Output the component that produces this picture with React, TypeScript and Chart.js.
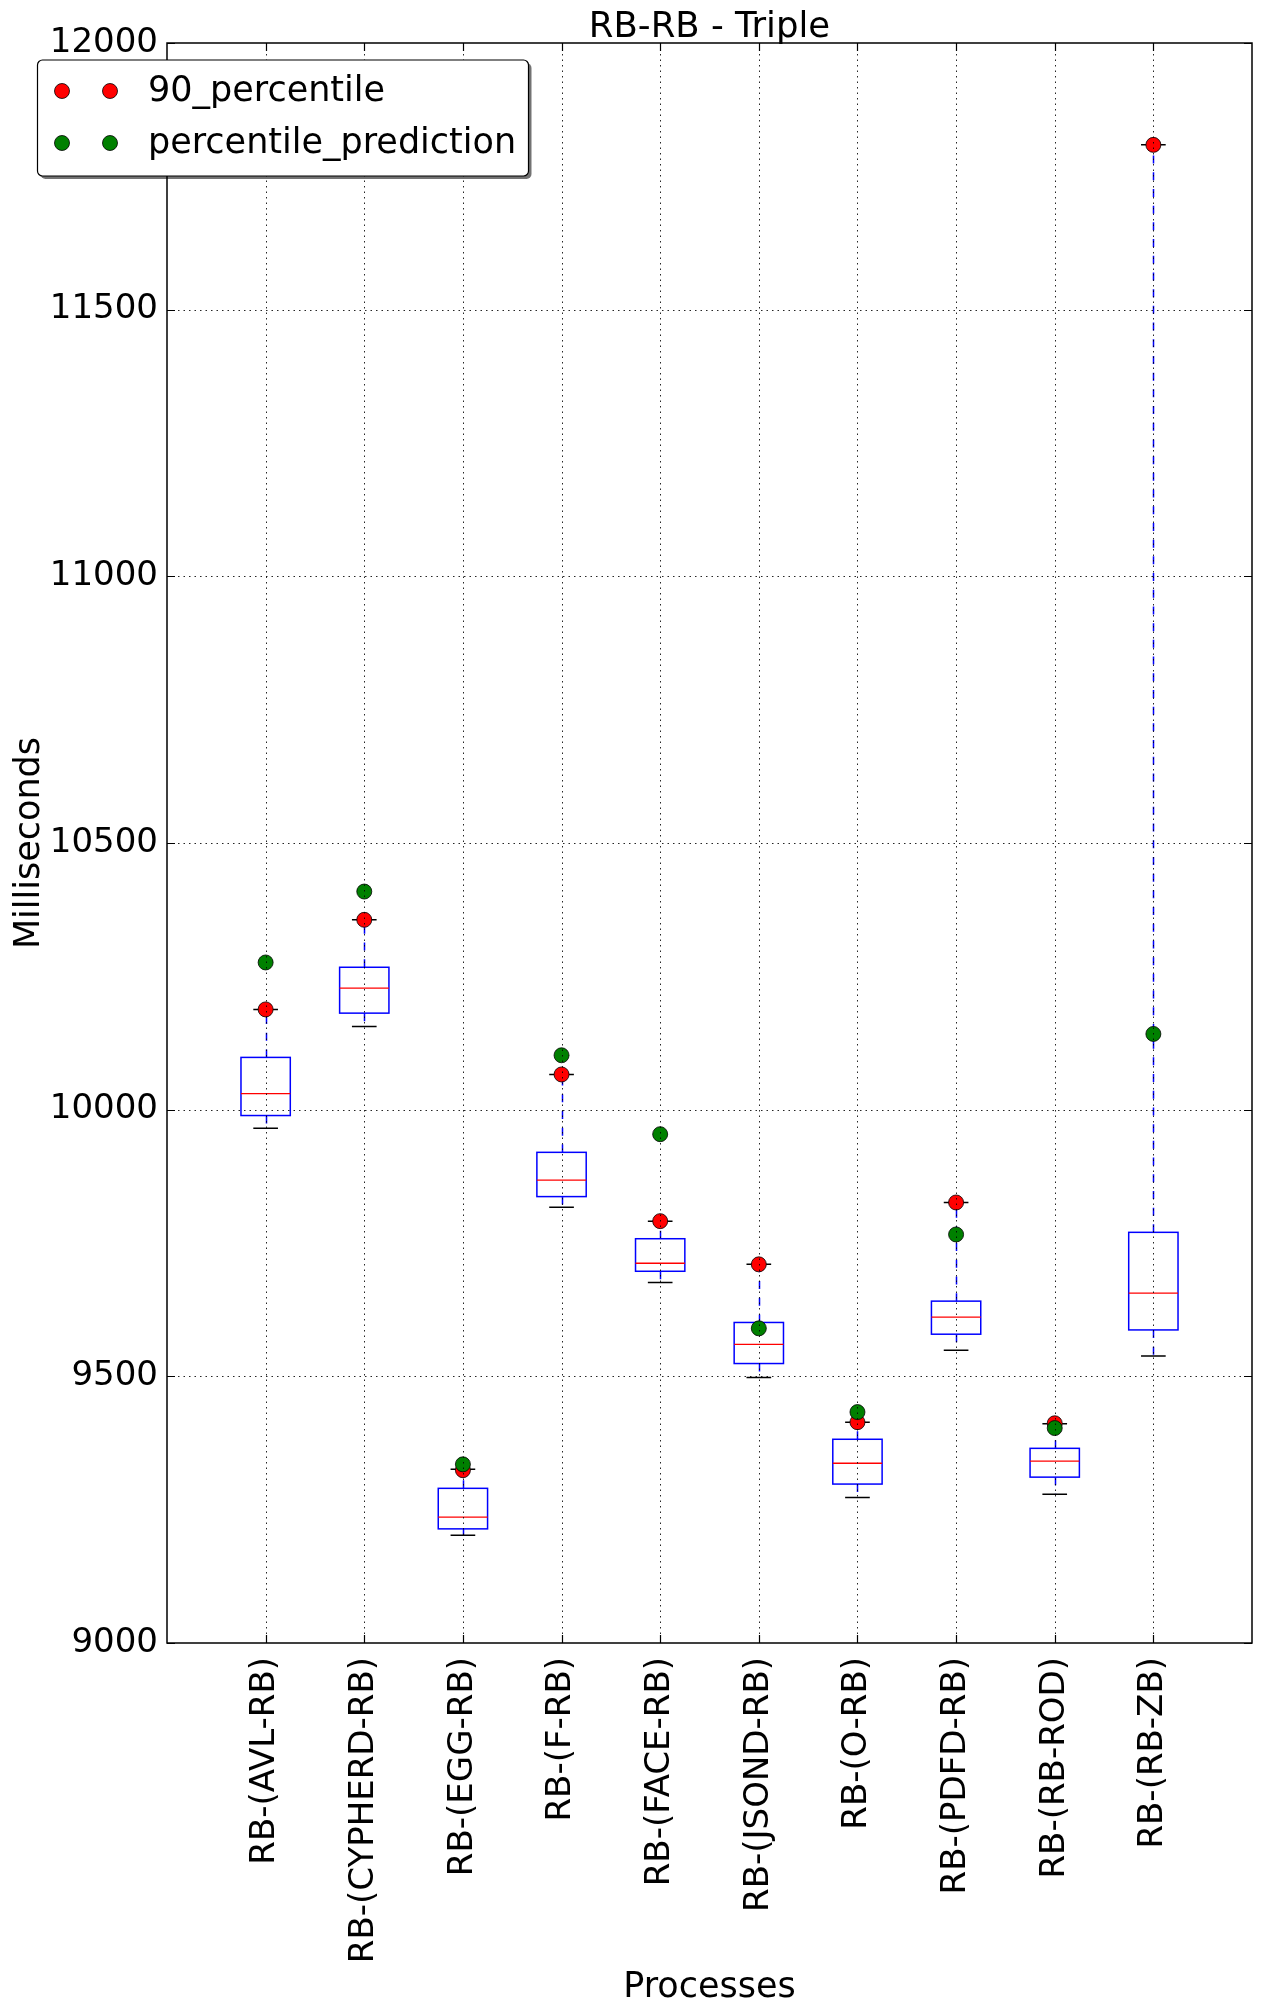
import React, { useEffect, useRef } from "react";
import { Chart, registerables } from "chart.js";

Chart.register(...registerables);

const categories = [
  "RB-(AVL-RB)",
  "RB-(CYPHERD-RB)",
  "RB-(EGG-RB)",
  "RB-(F-RB)",
  "RB-(FACE-RB)",
  "RB-(JSOND-RB)",
  "RB-(O-RB)",
  "RB-(PDFD-RB)",
  "RB-(RB-ROD)",
  "RB-(RB-ZB)",
];
const whiskerLow = [9965, 10156, 9202, 9817, 9676, 9498, 9273, 9549, 9279, 9538];
const q1 = [9989, 10181, 9214, 9837, 9697, 9524, 9298, 9579, 9311, 9587];
const median = [10030, 10228, 9236, 9868, 9712, 9560, 9337, 9611, 9341, 9656];
const q3 = [10098, 10267, 9290, 9920, 9758, 9601, 9382, 9641, 9365, 9770];
const whiskerHigh = [10188, 10356, 9326, 10066, 9791, 9710, 9414, 9826, 9411, 11809];
const percentile90 = [10188, 10356, 9324, 10066, 9791, 9710, 9414, 9826, 9412, 11809];
const percentilePrediction = [10276, 10409, 9335, 10102, 9954, 9590, 9433, 9766, 9403, 10142];
const yTicks = [9000, 9500, 10000, 10500, 11000, 11500, 12000];

const TITLE = "RB-RB - Triple";
const X_TITLE = "Processes";
const Y_TITLE = "Milliseconds";
const LEGEND_LABELS = ["90_percentile", "percentile_prediction"];
const RED = "#ff0000";
const GREEN = "#008000";
const BLUE = "#0000ff";
const FONT = "'DejaVu Sans', 'Liberation Sans', sans-serif";

const boxPlugin = {
  id: "boxes",
  beforeDatasetsDraw(chart: any) {
    const { ctx, scales } = chart;
    const xs = scales.x;
    const ys = scales.y;
    const boxHalf = 0.25;
    const capHalf = 0.125;
    ctx.save();
    for (let i = 0; i < categories.length; i++) {
      const xv = i + 1;
      const xc = Math.round(xs.getPixelForValue(xv)) + 0.5;
      const xl = xs.getPixelForValue(xv - boxHalf);
      const xr = xs.getPixelForValue(xv + boxHalf);
      const cl = xs.getPixelForValue(xv - capHalf);
      const cr = xs.getPixelForValue(xv + capHalf);
      const yLow = ys.getPixelForValue(whiskerLow[i]);
      const yQ1 = ys.getPixelForValue(q1[i]);
      const yMed = ys.getPixelForValue(median[i]);
      const yQ3 = ys.getPixelForValue(q3[i]);
      const yHigh = ys.getPixelForValue(whiskerHigh[i]);
      // whiskers
      ctx.strokeStyle = BLUE;
      ctx.lineWidth = 1.5;
      ctx.setLineDash([8, 8.7]);
      ctx.beginPath();
      ctx.moveTo(xc, yQ3);
      ctx.lineTo(xc, yHigh);
      ctx.moveTo(xc, yQ1);
      ctx.lineTo(xc, yLow);
      ctx.stroke();
      ctx.setLineDash([]);
      // caps
      ctx.strokeStyle = "#000";
      ctx.lineWidth = 1.5;
      ctx.beginPath();
      ctx.moveTo(cl, yHigh);
      ctx.lineTo(cr, yHigh);
      ctx.moveTo(cl, yLow);
      ctx.lineTo(cr, yLow);
      ctx.stroke();
      // box
      ctx.strokeStyle = BLUE;
      ctx.lineWidth = 1.5;
      ctx.strokeRect(xl, yQ3, xr - xl, yQ1 - yQ3);
      // median
      ctx.strokeStyle = RED;
      ctx.lineWidth = 1.3;
      ctx.beginPath();
      ctx.moveTo(xl, yMed);
      ctx.lineTo(xr, yMed);
      ctx.stroke();
    }
    ctx.restore();
  },
  afterDatasetsDraw(chart: any) {
    const { ctx, scales, chartArea } = chart;
    const xs = scales.x;
    const ys = scales.y;
    const { left, right, top, bottom } = chartArea;
    ctx.save();
    // dotted grid on top of data (matplotlib classic)
    ctx.strokeStyle = "rgba(0,0,0,0.85)";
    ctx.lineWidth = 1;
    ctx.setLineDash([1.5, 4]);
    ctx.beginPath();
    for (let i = 0; i < categories.length; i++) {
      const x = Math.round(xs.getPixelForValue(i + 1)) + 0.5;
      ctx.moveTo(x, top);
      ctx.lineTo(x, bottom);
    }
    for (const v of yTicks) {
      if (v === yTicks[0] || v === yTicks[yTicks.length - 1]) continue;
      const y = Math.round(ys.getPixelForValue(v)) + 0.5;
      ctx.moveTo(left, y);
      ctx.lineTo(right, y);
    }
    ctx.stroke();
    ctx.setLineDash([]);
    // inward tick marks
    ctx.strokeStyle = "#000";
    ctx.lineWidth = 1.2;
    ctx.beginPath();
    for (let i = 0; i < categories.length; i++) {
      const x = Math.round(xs.getPixelForValue(i + 1)) + 0.5;
      ctx.moveTo(x, bottom);
      ctx.lineTo(x, bottom - 8);
      ctx.moveTo(x, top);
      ctx.lineTo(x, top + 8);
    }
    for (const v of yTicks) {
      const y = Math.round(ys.getPixelForValue(v)) + 0.5;
      ctx.moveTo(left, y);
      ctx.lineTo(left + 8, y);
      ctx.moveTo(right, y);
      ctx.lineTo(right - 8, y);
    }
    ctx.stroke();
    // frame
    ctx.lineWidth = 1.5;
    ctx.strokeRect(left, top, right - left, bottom - top);
    ctx.restore();
  },
  afterDraw(chart: any) {
    const { ctx, chartArea } = chart;
    ctx.save();
    // title
    ctx.fillStyle = "#000";
    ctx.font = `35.5px ${FONT}`;
    ctx.textAlign = "center";
    ctx.textBaseline = "alphabetic";
    ctx.fillText(TITLE, (chartArea.left + chartArea.right) / 2, 37);
    // legend
    const bx = 37.5;
    const by = 60;
    const bw = 491;
    const bh = 116;
    const r = 5;
    const rr = (x: number, y: number) => {
      ctx.beginPath();
      ctx.moveTo(x + r, y);
      ctx.lineTo(x + bw - r, y);
      ctx.arcTo(x + bw, y, x + bw, y + r, r);
      ctx.lineTo(x + bw, y + bh - r);
      ctx.arcTo(x + bw, y + bh, x + bw - r, y + bh, r);
      ctx.lineTo(x + r, y + bh);
      ctx.arcTo(x, y + bh, x, y + bh - r, r);
      ctx.lineTo(x, y + r);
      ctx.arcTo(x, y, x + r, y, r);
      ctx.closePath();
    };
    rr(bx + 3, by + 3);
    ctx.fillStyle = "rgba(0,0,0,0.55)";
    ctx.fill();
    rr(bx, by);
    ctx.fillStyle = "#fff";
    ctx.fill();
    ctx.strokeStyle = "#000";
    ctx.lineWidth = 1.2;
    ctx.stroke();
    const rows = [91, 143];
    const colors = [RED, GREEN];
    for (let k = 0; k < 2; k++) {
      for (const mx of [62, 110]) {
        ctx.beginPath();
        ctx.arc(mx, rows[k], 7.5, 0, Math.PI * 2);
        ctx.fillStyle = colors[k];
        ctx.fill();
        ctx.strokeStyle = "#000";
        ctx.lineWidth = 0.8;
        ctx.stroke();
      }
      ctx.fillStyle = "#000";
      ctx.font = `35px ${FONT}`;
      ctx.textAlign = "left";
      ctx.textBaseline = "middle";
      ctx.fillText(LEGEND_LABELS[k], 148, rows[k] + 1);
    }
    ctx.restore();
  },
};

export default function App() {
  const ref = useRef<HTMLCanvasElement | null>(null);
  useEffect(() => {
    if (!ref.current) return;
    const xs = categories.map((_, i) => i + 1);
    const chart = new Chart(ref.current, {
      type: "scatter",
      data: {
        datasets: [
          {
            label: LEGEND_LABELS[1],
            data: xs.map((x, i) => ({ x, y: percentilePrediction[i] })),
            backgroundColor: GREEN,
            borderColor: "#000",
            borderWidth: 0.8,
            pointRadius: 7.5,
            order: 1,
          },
          {
            label: LEGEND_LABELS[0],
            data: xs.map((x, i) => ({ x, y: percentile90[i] })),
            backgroundColor: RED,
            borderColor: "#000",
            borderWidth: 0.8,
            pointRadius: 7.5,
            order: 2,
          },
        ],
      },
      options: {
        animation: false,
        responsive: false,
        devicePixelRatio: 1,
        layout: { padding: { top: 43, right: 10, left: 0, bottom: 0 } },
        plugins: {
          legend: { display: false },
          tooltip: { enabled: false },
          title: { display: false },
        },
        scales: {
          x: {
            type: "linear",
            position: "bottom",
            min: 0,
            max: 11,
            afterFit: (s: any) => {
              s.height = 370;
            },
            afterBuildTicks: (s: any) => {
              s.ticks = xs.map((v) => ({ value: v }));
            },
            ticks: {
              autoSkip: false,
              maxRotation: 90,
              minRotation: 90,
              padding: 14,
              color: "#000",
              font: { family: FONT, size: 34 },
              callback: (v: any) => {
                const n = Number(v);
                return n >= 1 && n <= categories.length ? categories[n - 1] : "";
              },
            },
            grid: { display: false, drawTicks: false },
            border: { display: false },
            title: {
              display: true,
              text: X_TITLE,
              color: "#000",
              font: { family: FONT, size: 35 },
              padding: { top: 0, bottom: 4 },
            },
          },
          y: {
            type: "linear",
            min: yTicks[0],
            max: yTicks[yTicks.length - 1],
            afterFit: (s: any) => {
              s.width = 167;
            },
            afterBuildTicks: (s: any) => {
              s.ticks = yTicks.map((v) => ({ value: v }));
            },
            ticks: {
              padding: 9,
              color: "#000",
              font: { family: FONT, size: 34 },
              callback: (v: any) => String(v),
            },
            grid: { display: false, drawTicks: false },
            border: { display: false },
            title: {
              display: true,
              text: Y_TITLE,
              color: "#000",
              font: { family: FONT, size: 35 },
              padding: { top: 9, bottom: 0 },
            },
          },
        },
      },
      plugins: [boxPlugin],
    });
    return () => chart.destroy();
  }, []);
  return (
    <div style={{ position: "absolute", left: 0, top: 0, width: 1262, height: 2013, background: "#fff" }}>
      <canvas ref={ref} width={1262} height={2013} style={{ display: "block" }} />
    </div>
  );
}
